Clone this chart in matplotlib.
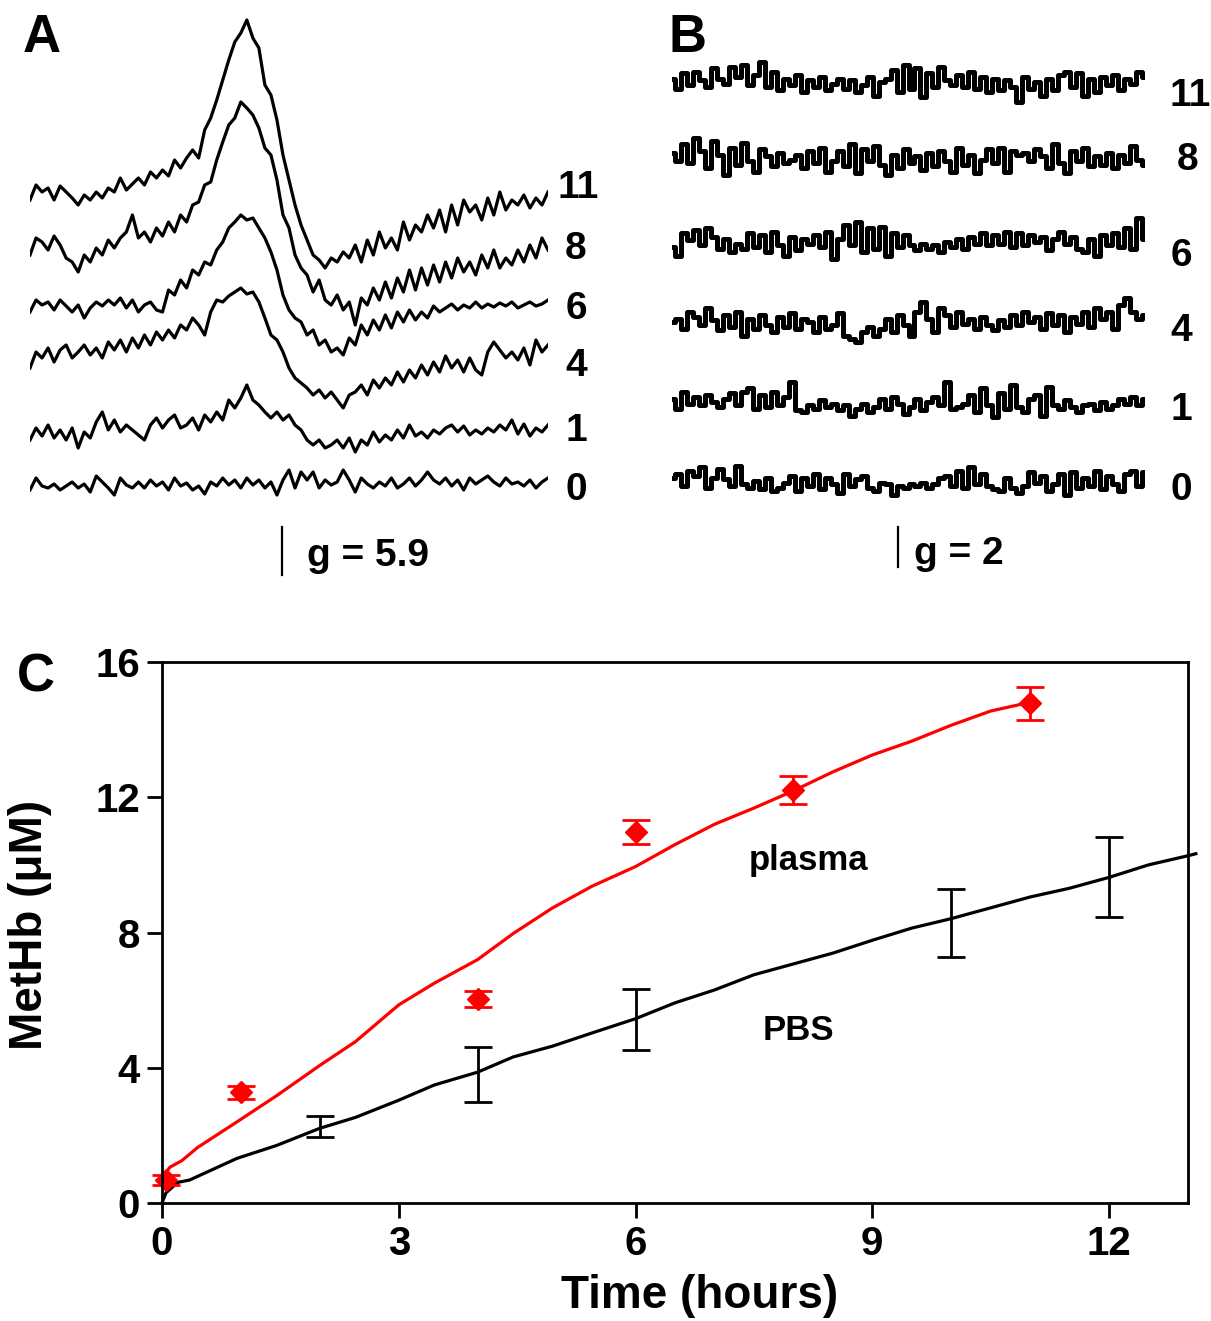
import numpy as np
import matplotlib.pyplot as plt

plt.rcParams['font.family'] = ['Liberation Sans', 'DejaVu Sans']
plt.rcParams['font.weight'] = 'bold'

# ---- Panel A: EPR spectra (plasma), signal in arbitrary units, up = positive ----
a_labels = ["11", "8", "6", "4", "1", "0"]
a_11 = [-5, 10, 3, 7, -5, 9, 3, -3, -10, 0, -5, 3, -3, 7, 3, 17, 5, 11, 17, 10, 23, 17, 25, 19, 35, 27,
        37, 45, 37, 65, 77, 95, 115, 135, 153, 162, 175, 157, 147, 110, 100, 75, 40, 15, -10, -30, -45,
        -60, -65, -73, -63, -67, -57, -63, -50, -67, -45, -60, -37, -53, -43, -55, -27, -45, -30, -37,
        -20, -33, -15, -37, -10, -30, -5, -17, -10, -25, -3, -20, 3, -15, -5, -10, 0, -13, -3, -10, 3]
a_8 = [-10, 7, 3, -5, 9, 0, -13, -17, -27, -10, -17, -3, -10, 5, -3, 7, 13, 30, 7, 13, 3, 17, 9, 23, 13,
       30, 23, 40, 43, 60, 63, 85, 103, 120, 127, 143, 137, 130, 117, 97, 90, 65, 30, 17, -10, -23, -30,
       -47, -35, -55, -60, -50, -65, -57, -80, -53, -60, -43, -55, -37, -53, -33, -47, -25, -45, -23,
       -40, -20, -37, -17, -33, -13, -27, -17, -30, -10, -23, -5, -23, -13, -20, -5, -17, 0, -13, 7, -5]
a_6 = [-4, 8, 3, 6, -2, 8, 2, -4, 3, -10, 0, 6, 2, 8, 3, 10, 0, 8, -4, 3, 6, -2, -4, 18, 13, 28, 20, 38,
       33, 46, 43, 58, 66, 80, 86, 93, 88, 90, 80, 70, 56, 38, 13, -2, -10, -14, -27, -22, -37, -32, -44,
       -40, -47, -30, -37, -17, -27, -12, -22, -7, -20, -4, -14, -2, -12, -4, -10, 2, -4, 0, 4, -2, 3, 0,
       6, 0, 4, 1, 5, 2, 6, 0, 3, 6, 2, 4, 8]
a_4 = [-13, 3, -3, 7, -7, 5, 10, -3, 3, 10, 0, 7, -3, 13, 5, 15, 3, 17, 7, 20, 10, 23, 15, 25, 17, 30, 25,
       37, 30, 20, 43, 55, 53, 59, 63, 67, 61, 63, 53, 37, 20, 15, 3, -13, -23, -28, -33, -40, -35, -43,
       -37, -45, -53, -40, -37, -30, -40, -25, -33, -23, -30, -17, -27, -15, -23, -10, -20, -7, -17, -1,
       -13, -5, -17, -3, -15, -20, 3, 13, 5, -3, 3, -5, 7, -10, 15, 3, 10]
a_1 = [-5, 7, -1, 10, -3, 5, -5, 7, -13, 3, -3, 13, 23, 5, 15, 3, 10, 5, 0, -5, 10, 17, 7, 15, 20, 7, 10,
       17, 5, 20, 13, 23, 15, 35, 27, 37, 50, 35, 30, 23, 17, 23, 15, 20, 10, 5, -5, -10, -5, -13, -10,
       -5, -13, -3, -17, -5, -10, 3, -7, 0, -5, 5, -3, 10, -1, 3, -3, 5, 1, 7, 10, 3, 9, 0, 5, 1, 7, 3,
       10, 5, 15, 1, 11, -1, 7, 3, 10]
a_0 = [-5, 7, -1, -3, 1, -5, -1, 3, -3, 1, -7, 9, 3, -3, -10, 7, 0, -3, 3, -3, 5, -1, 3, -5, 7, -1, 2,
       -5, -1, -9, 3, -1, 7, 0, 5, -3, 7, 0, 5, -3, 3, -10, 5, 15, -3, 13, 5, 13, -3, 5, 0, 3, 15, 5, -7,
       7, 1, -3, 3, -1, 7, -3, 1, 7, -1, 5, 13, 5, 1, 7, -1, 5, -5, 7, 1, 5, 9, 3, -1, 7, 1, 3, -1, 5,
       -3, 3, 7]
a_traces = [a_11, a_8, a_6, a_4, a_1, a_0]

# ---- Panel B: EPR spectra (PBS), pure noise ----
b_labels = ["11", "8", "6", "4", "1", "0"]
b_11 = [2, -4, 5, -2, 6, 1, -3, 8, 2, -1, 9, 3, 10, -2, 4, 12, -3, 6, -5, 2, -2, 4, -6, 1, -3, 3, -5, -1,
        2, -4, 1, -6, -2, 3, -8, 0, 2, 7, -6, 10, -4, 8, -9, 5, -3, 9, 1, -2, 4, -3, 6, -4, 3, -6, 2, -5,
        1, -3, -12, 3, -4, 0, -8, 2, -5, 4, 6, -3, 5, -8, 2, -6, 3, -2, 4, -5, 2, -1, 6, 3]
b_8 = [3, -2, 8, -3, 12, 4, -6, 10, 2, -10, 6, -4, 9, -2, -8, 5, 1, -5, 3, -3, -1, 2, -6, 4, -3, 6, -8,
       -2, 4, -5, 8, -9, 5, -2, 7, -4, -10, 2, -6, 5, -3, 1, -7, 3, -5, 4, -2, -8, 6, -4, 2, -9, -1, 5,
       -3, 6, -8, 4, 2, 3, -2, 5, 1, -6, 8, -3, -9, 4, -2, 6, -5, 1, -4, 3, -6, 2, -3, 7, -1, -4]
b_6 = [-3, -8, 5, 1, 7, -2, 8, 3, -4, 2, -6, -1, -4, 5, -3, 4, -6, 6, -2, -8, 3, -5, 2, -1, 4, -3, 6,
       -10, 2, 10, -2, 12, -6, 8, -4, 9, -8, 5, -3, 4, -2, -5, -1, -4, -2, -6, 0, -3, 2, -4, 3, -1, 5, -2,
       4, -1, 6, -3, 5, -2, 4, 0, 3, -5, 2, 6, -1, 3, -4, -6, 2, -8, 4, -2, 5, -3, 8, -4, 14, 2]
b_4 = [0, 2, -4, 6, 3, -2, 8, 1, -5, 4, -3, 6, -8, 2, -4, 4, -2, -6, 3, -3, 5, -4, 2, 0, -6, 3, -4, -2,
       5, -8, -10, -12, -6, -3, -8, -4, 2, -6, 4, -2, -8, 6, 12, 2, -6, 8, 4, -3, 6, -1, 2, -4, 3, -2,
       -5, 1, -3, 4, -2, 6, 0, 3, -4, 5, -2, 4, -6, 3, -1, 6, -3, 8, 2, 6, -4, 10, 14, 6, 2, 4]
b_1 = [2, -4, 6, -1, 3, -2, 4, 0, -3, 2, 5, -2, 6, 8, -4, 4, -3, 6, -2, 3, 12, -5, -6, -2, -4, 1, -3,
       -1, -5, -2, -8, -4, -1, -6, -3, 2, -4, 3, -1, -7, -3, 2, -5, 0, 3, -2, 12, -4, -3, -1, 4, -6, 8,
       -2, -9, 5, -4, 10, -3, -6, 2, 4, -8, 9, -2, -4, 1, -3, -6, -2, -1, -5, 0, -4, -2, 2, -1, 3, -2, 2]
b_0 = [2, 4, -3, 6, 3, 8, -4, 2, 7, 1, -3, 9, -2, -4, 0, -5, 2, -6, -4, -1, 3, -6, 2, -3, 4, -5, 2, -2,
       -7, 4, -3, 1, 3, -4, -6, -1, -2, -8, -3, -4, -2, -3, -1, -4, -2, 2, 3, -3, 6, -4, 8, -2, 4, -3,
       -5, -6, 2, -4, -7, -3, 5, -1, 3, -6, -2, 4, -8, 5, -4, 2, -3, 6, -5, 3, -2, -6, 4, 6, -3, 5]
b_traces = [b_11, b_8, b_6, b_4, b_1, b_0]

# ---- Panel C: MetHb formation ----
plasma_t = [0.0, 0.1, 0.25, 0.45, 0.95, 1.45, 2.0, 2.45, 3.0, 3.45, 4.0, 4.45, 4.95, 5.45, 6.0, 6.5,
            7.0, 7.5, 8.0, 8.5, 9.0, 9.5, 10.0, 10.5, 11.0]
plasma_fit = [0.74, 1.06, 1.25, 1.64, 2.4, 3.17, 4.07, 4.77, 5.86, 6.5, 7.2, 7.97, 8.73, 9.37, 9.95,
              10.6, 11.2, 11.68, 12.19, 12.75, 13.25, 13.66, 14.13, 14.55, 14.81]
pbs_t = [0.0, 0.05, 0.2, 0.35, 0.95, 1.45, 2.0, 2.45, 3.0, 3.45, 4.0, 4.45, 4.95, 5.45, 6.0, 6.5, 7.0,
         7.5, 8.0, 8.5, 9.0, 9.5, 10.0, 10.5, 11.0, 11.5, 12.0, 12.5, 13.0, 13.1]
pbs_fit = [0.0, 0.3, 0.61, 0.68, 1.32, 1.7, 2.21, 2.53, 3.04, 3.49, 3.87, 4.32, 4.64, 5.03, 5.45, 5.92,
           6.3, 6.75, 7.07, 7.39, 7.77, 8.13, 8.41, 8.73, 9.05, 9.31, 9.63, 10.0, 10.27, 10.33]
plasma_x = [0.05, 1.0, 4.0, 6.0, 8.0, 11.0]
plasma_y = [0.68, 3.27, 6.04, 10.97, 12.22, 14.78]
plasma_err = [0.15, 0.19, 0.24, 0.35, 0.42, 0.49]
pbs_x = [2.0, 4.0, 6.0, 10.0, 12.0]
pbs_y = [2.25, 3.81, 5.43, 8.29, 9.63]
pbs_err = [0.31, 0.81, 0.9, 1.01, 1.18]

W, H = 1211, 1321
fig = plt.figure(figsize=(W / 100, H / 100), dpi=100)


def fx(x):
    return x / W


def fy(y):
    return 1 - y / H


# stacking offsets of traces (pixel rows of each baseline) and display gain for B
a_base = [195, 245, 308, 355, 435, 485]
b_base = [82, 158, 242, 322, 402, 481]
b_gain = 1.7

axA = fig.add_axes([fx(30), fy(510), 518 / W, 510 / H])
for sig, base in zip(a_traces, a_base):
    xs = np.linspace(0, 1, len(sig))
    axA.plot(xs, base - np.array(sig), color='black', lw=2.3)
axA.set_xlim(0, 1)
axA.set_ylim(510, 0)
axA.axis('off')
axA.plot([0.487, 0.487], [527, 575], color='black', lw=1.6, clip_on=False)

axB = fig.add_axes([fx(672), fy(510), 473 / W, 510 / H])
for sig, base in zip(b_traces, b_base):
    xs = np.linspace(0, 1, len(sig))
    axB.plot(xs, base - b_gain * np.array(sig), color='black', lw=3.6, drawstyle='steps-mid')
axB.set_xlim(0, 1)
axB.set_ylim(510, 0)
axB.axis('off')
axB.plot([0.477, 0.477], [527, 567], color='black', lw=1.6, clip_on=False)

# panel labels and trace labels
fig.text(fx(42), fy(38), "A", fontsize=38, ha='center', va='center')
fig.text(fx(688), fy(38), "B", fontsize=38, ha='center', va='center')
fig.text(fx(36), fy(677), "C", fontsize=38, ha='center', va='center')

a_lab_pos = [(578, 188), (576, 249), (576, 309), (576, 366), (576, 431), (576, 490)]
for lab, (x, y) in zip(a_labels, a_lab_pos):
    fig.text(fx(x), fy(y), lab, fontsize=28, ha='center', va='center')
b_lab_pos = [(1190, 96), (1188, 160), (1181, 256), (1181, 331), (1181, 410), (1181, 490)]
for lab, (x, y) in zip(b_labels, b_lab_pos):
    fig.text(fx(x), fy(y), lab, fontsize=28, ha='center', va='center')

fig.text(fx(368), fy(556), "g = 5.9", fontsize=28, ha='center', va='center')
fig.text(fx(959), fy(554), "g = 2", fontsize=28, ha='center', va='center')

# panel C
axC = fig.add_axes([fx(162), fy(1203), 1026 / W, 541 / H])
axC.plot(plasma_t, plasma_fit, color='red', lw=2.3)
axC.plot(pbs_t, pbs_fit, color='black', lw=2.3, clip_on=False)
eb1 = axC.errorbar(plasma_x, plasma_y, yerr=plasma_err, fmt='D', color='red', ms=11,
                   ecolor='red', elinewidth=2, capsize=10, capthick=2)
eb2 = axC.errorbar(pbs_x, pbs_y, yerr=pbs_err, fmt='none', ecolor='black', elinewidth=2,
                   capsize=10, capthick=2)
for eb in (eb1, eb2):
    for art in eb.get_children():
        art.set_clip_on(False)

axC.set_xlim(0, 13)
axC.set_ylim(0, 16)
axC.set_xticks([0, 3, 6, 9, 12])
axC.set_yticks([0, 4, 8, 12, 16])
axC.tick_params(direction='out', length=11, width=2, labelsize=29, pad=5)
for s in axC.spines.values():
    s.set_linewidth(2)

axC.text(8.19, 10.14, "plasma", fontsize=25, ha='center', va='center')
axC.text(8.06, 5.09, "PBS", fontsize=25, ha='center', va='center')

fig.text(fx(30), fy(925), "MetHb (\u03bcM)", fontsize=33, rotation=90, ha='center', va='center')
fig.text(fx(700), fy(1308), "Time (hours)", fontsize=33, ha='center', va='baseline')

fig.savefig("out.png", dpi=100)
